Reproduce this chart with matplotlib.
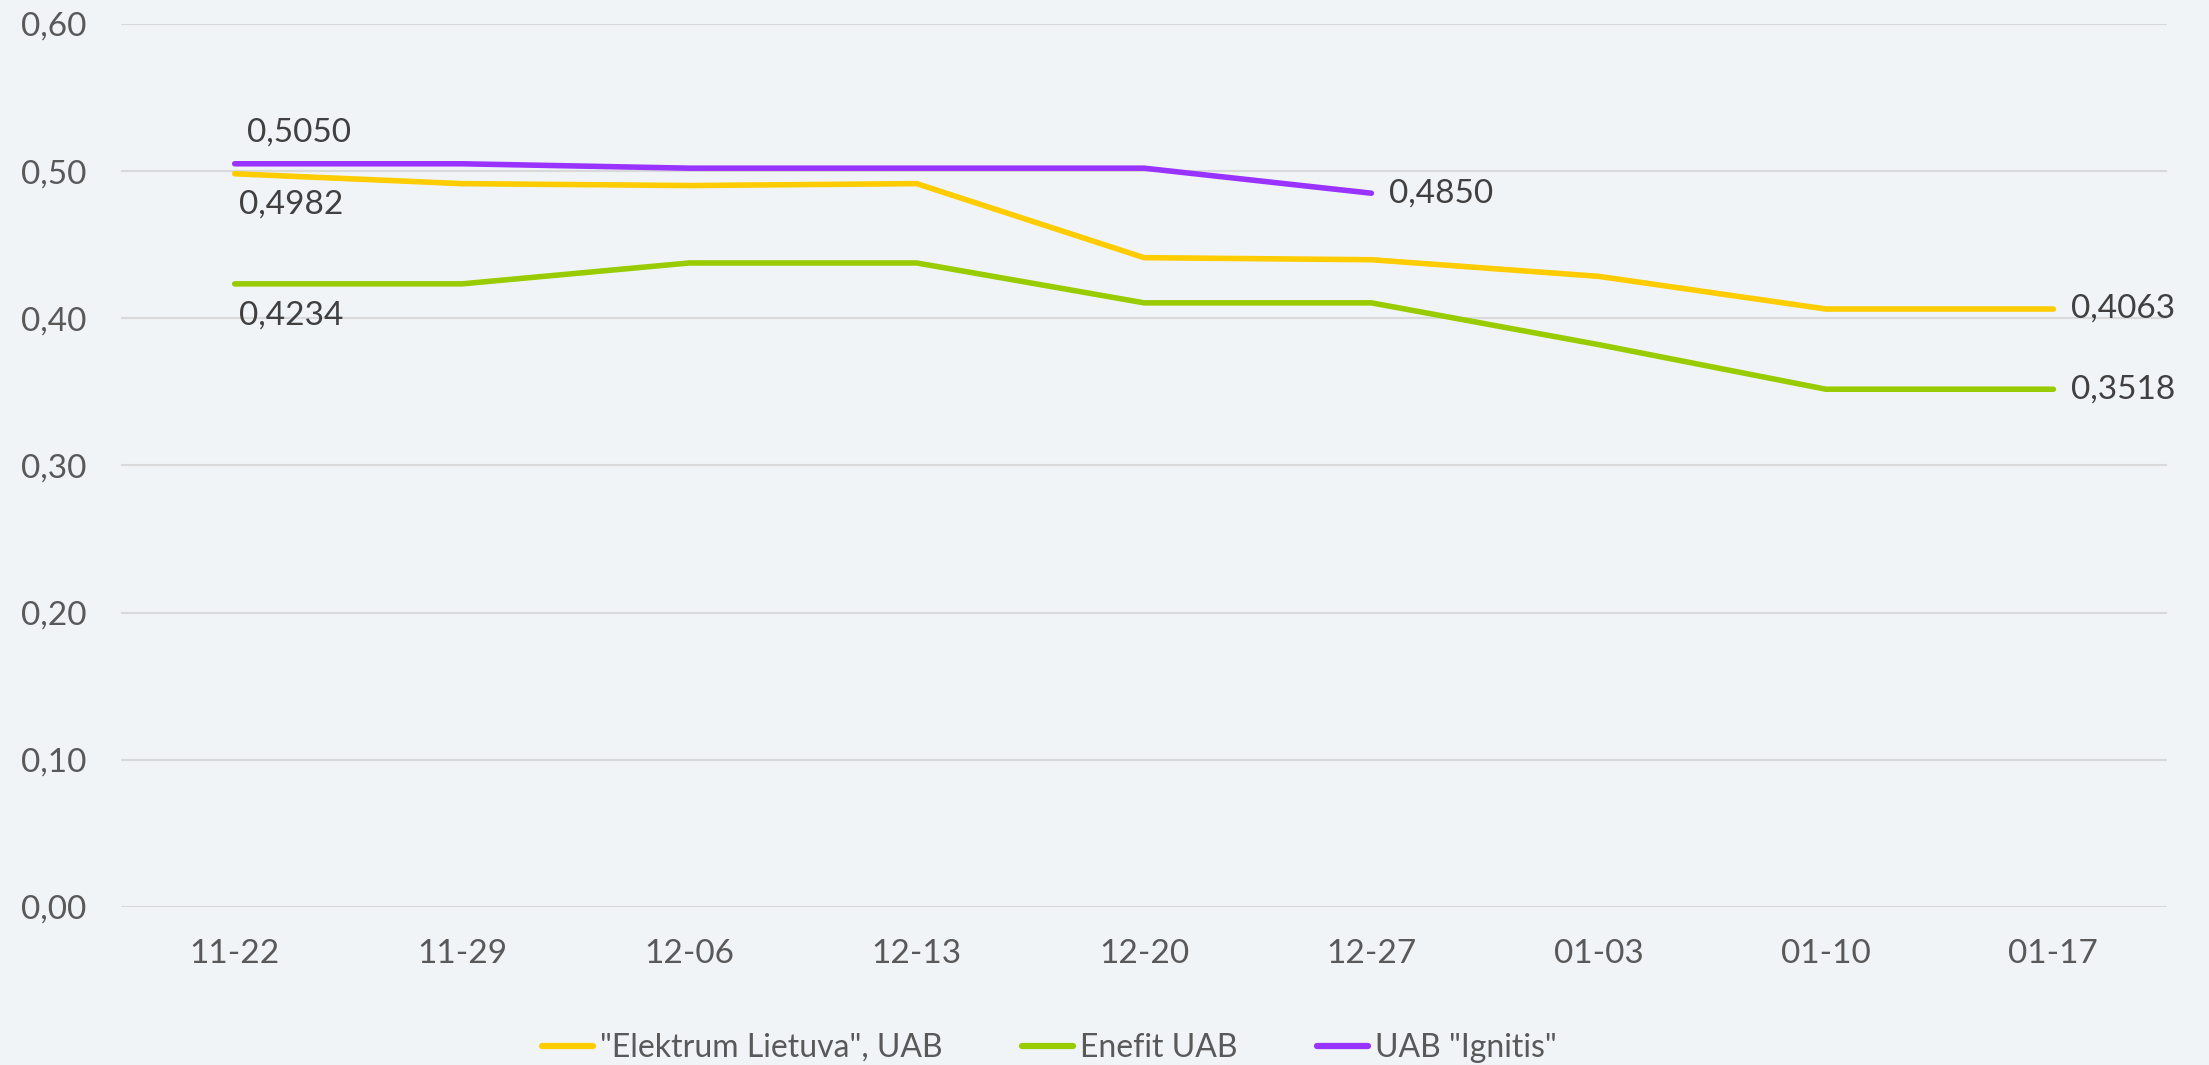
import matplotlib
matplotlib.use("Agg")
import matplotlib.pyplot as plt

categories = ["11-22", "11-29", "12-06", "12-13", "12-20", "12-27", "01-03", "01-10", "01-17"]
elektrum = [0.4982, 0.4915, 0.4902, 0.4915, 0.4412, 0.4398, 0.4285, 0.4063, 0.4063]
enefit = [0.4234, 0.4234, 0.4376, 0.4376, 0.4105, 0.4105, 0.3821, 0.3518, 0.3518]
ignitis = [0.5050, 0.5050, 0.5020, 0.5020, 0.5020, 0.4850]
series_names = ['"Elektrum Lietuva", UAB', 'Enefit UAB', 'UAB "Ignitis"']
yticks = [0.0, 0.1, 0.2, 0.3, 0.4, 0.5, 0.6]

bg = "#F1F4F7"
colors = ["#FFCC00", "#99CC00", "#9933FF"]

plt.rcParams['font.family'] = ['Lato', 'DejaVu Sans']

fig = plt.figure(figsize=(22.09, 10.65), dpi=100, facecolor=bg)
ax = fig.add_axes([0.0548, 0.1484, 0.9262, 0.8291], facecolor=bg)

x = list(range(len(categories)))
ax.plot(x, elektrum, color=colors[0], lw=4.0, solid_capstyle='round', label=series_names[0], zorder=3)
ax.plot(x, enefit, color=colors[1], lw=4.0, solid_capstyle='round', label=series_names[1], zorder=3)
ax.plot(x[:len(ignitis)], ignitis, color=colors[2], lw=4.0, solid_capstyle='round', label=series_names[2], zorder=4)

ax.set_xlim(-0.5, len(categories) - 0.5)
ax.set_ylim(0, 0.6)
ax.set_yticks(yticks)
ax.set_yticklabels([f"{v:.2f}".replace('.', ',') for v in yticks])
ax.set_xticks(x)
ax.set_xticklabels(categories)
ax.grid(axis='y', color='#D9D9D9', lw=1.5, zorder=0)
ax.set_axisbelow(True)
for s in ax.spines.values():
    s.set_visible(False)
ax.tick_params(axis='both', length=0, labelsize=24, colors='#595959')
ax.tick_params(axis='y', pad=25)
ax.tick_params(axis='x', pad=23)

def fmt(v):
    return f"{v:.4f}".replace('.', ',')

lab_kw = dict(fontsize=24, color='#404040')
ax.annotate(fmt(ignitis[0]), (0, ignitis[0]), xytext=(9, 12), textcoords='offset points', ha='left', va='bottom', **lab_kw)
ax.annotate(fmt(elektrum[0]), (0, elektrum[0]), xytext=(3, -11), textcoords='offset points', ha='left', va='top', **lab_kw)
ax.annotate(fmt(enefit[0]), (0, enefit[0]), xytext=(3, -12), textcoords='offset points', ha='left', va='top', **lab_kw)
ax.annotate(fmt(ignitis[-1]), (len(ignitis) - 1, ignitis[-1]), xytext=(13, 0), textcoords='offset points', ha='left', va='center', **lab_kw)
ax.annotate(fmt(elektrum[-1]), (len(elektrum) - 1, elektrum[-1]), xytext=(13, 0), textcoords='offset points', ha='left', va='center', **lab_kw)
ax.annotate(fmt(enefit[-1]), (len(enefit) - 1, enefit[-1]), xytext=(13, 0), textcoords='offset points', ha='left', va='center', **lab_kw)

leg = fig.legend(loc='center', bbox_to_anchor=(0.475, 0.016), ncol=3, frameon=False,
                 fontsize=23, handlelength=1.6, handletextpad=0.2, columnspacing=2.5,
                 labelcolor='#595959')
for h in leg.get_lines():
    h.set_linewidth(4.5)

fig.savefig("out.png", dpi=100, facecolor=bg)
